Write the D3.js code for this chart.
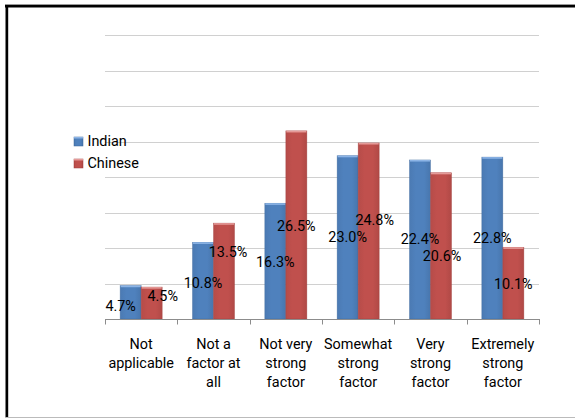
<!DOCTYPE html>
<html>
<head>
<meta charset="utf-8">
<script src="https://cdn.jsdelivr.net/npm/d3@7/dist/d3.min.js"></script>
<style>
html,body{margin:0;padding:0;background:#fff;}
svg{display:block;}
text{font-family:Roboto, "Liberation Sans", sans-serif;fill:#000;}
</style>
</head>
<body>
<svg id="chart" width="575" height="419"></svg>
<script>
const categories = ["Not\napplicable", "Not a\nfactor at\nall", "Not very\nstrong\nfactor", "Somewhat\nstrong\nfactor", "Very\nstrong\nfactor", "Extremely\nstrong\nfactor"];
const seriesNames = ["Indian", "Chinese"];
const indian = [4.7, 10.8, 16.3, 23.0, 22.4, 22.8];
const chinese = [4.5, 13.5, 26.5, 24.8, 20.6, 10.1];
const yTicks = [0, 5, 10, 15, 20, 25, 30, 35, 40];

const colors = {Indian: "#4F81BD", Chinese: "#C0504D"};
const darker = {Indian: "#3B6699", Chinese: "#9E3B38"};
const lighter = {Indian: "#8CB4E6", Chinese: "#E59A98"};

// label layout nudges (pixels), mimicking the original's label placement
const labelDx = {Indian: [-10, 0, 0, 0, 0, 0], Chinese: [11, 4, 0, 6, 1, 0]};
const labelDy = {Indian: [4, 2, 1, 0, 0, 0], Chinese: [-7, -19, 1, -11, 10, 1]};

const svg = d3.select("#chart");
const W = 575, H = 419;

// frame
svg.append("line").attr("x1", 5).attr("x2", W).attr("y1", 4.5).attr("y2", 4.5).attr("stroke", "#999").attr("stroke-width", 1);
svg.append("rect").attr("x", 5).attr("y", 5).attr("width", W - 5).attr("height", 2.5).attr("fill", "#000");
svg.append("rect").attr("x", 5.5).attr("y", 5).attr("width", 2.7).attr("height", 413).attr("fill", "#000");
svg.append("line").attr("x1", 5).attr("x2", W).attr("y1", 417.5).attr("y2", 417.5).attr("stroke", "#bbb").attr("stroke-width", 1);

const x0 = d3.scaleBand().domain(categories).range([105, 539]).paddingInner(0).paddingOuter(0);
const x1 = d3.scaleBand().domain(seriesNames).range([0, x0.bandwidth()]).paddingInner(0).paddingOuter(0.72);
const y = d3.scaleLinear().domain([0, 40]).range([319, 35]);

// gridlines
svg.append("g").selectAll("line").data(yTicks.filter(d => d > 0)).join("line")
  .attr("x1", 105).attr("x2", 539)
  .attr("y1", d => Math.round(y(d)) + 0.5).attr("y2", d => Math.round(y(d)) + 0.5)
  .attr("stroke", "#D0D0D0").attr("stroke-width", 1.2);

const data = seriesNames.map(s => ({name: s, values: s === "Indian" ? indian : chinese}));

const defs = svg.append("defs");
seriesNames.forEach(s => {
  const g = defs.append("linearGradient").attr("id", "grad-" + s).attr("x1", 0).attr("x2", 1).attr("y1", 0).attr("y2", 0);
  g.append("stop").attr("offset", "0%").attr("stop-color", d3.color(colors[s]).darker(0.15));
  g.append("stop").attr("offset", "30%").attr("stop-color", colors[s]);
  g.append("stop").attr("offset", "70%").attr("stop-color", colors[s]);
  g.append("stop").attr("offset", "100%").attr("stop-color", d3.color(colors[s]).darker(0.25));
});

const bars = svg.append("g");
data.forEach(ser => {
  ser.values.forEach((v, i) => {
    const bx = x0(categories[i]) + x1(ser.name);
    const bw = x1.bandwidth();
    const by = y(v), bh = y(0) - y(v);
    bars.append("rect").attr("x", bx).attr("y", by).attr("width", bw).attr("height", bh)
      .attr("fill", "url(#grad-" + ser.name + ")")
      .attr("stroke", darker[ser.name]).attr("stroke-width", 0.6).attr("stroke-opacity", 0.6);
    bars.append("rect").attr("x", bx + 0.5).attr("y", by).attr("width", bw - 1).attr("height", 1.6)
      .attr("fill", lighter[ser.name]);
  });
});

// x axis
const axisG = svg.append("g");
axisG.append("line").attr("x1", 105).attr("x2", 539).attr("y1", 319.5).attr("y2", 319.5).attr("stroke", "#8C8C8C").attr("stroke-width", 1);
const tickPos = categories.map(c => x0(c)).concat([x0.range()[1]]);
axisG.selectAll("line.tick").data(tickPos).join("line").attr("class", "tick")
  .attr("x1", d => Math.round(d) + 0.5).attr("x2", d => Math.round(d) + 0.5)
  .attr("y1", 319).attr("y2", 324.5).attr("stroke", "#8C8C8C");

axisG.selectAll("text.cat").data(categories).join("text").attr("class", "cat")
  .attr("text-anchor", "middle").attr("font-size", 14.4)
  .each(function(d) {
    const t = d3.select(this);
    const cx = x0(d) + x0.bandwidth() / 2;
    d.split("\n").forEach((line, k) => {
      t.append("tspan").attr("x", cx).attr("y", 349 + k * 19).text(line);
    });
  });

// data labels
const lbl = svg.append("g");
data.forEach(ser => {
  ser.values.forEach((v, i) => {
    const cx = x0(categories[i]) + x1(ser.name) + x1.bandwidth() / 2 + labelDx[ser.name][i];
    const cy = (y(v) + y(0)) / 2 + labelDy[ser.name][i];
    lbl.append("text").attr("x", cx).attr("y", cy + 5).attr("text-anchor", "middle")
      .attr("font-size", 14.4).text(v.toFixed(1) + "%");
  });
});

// legend
const leg = svg.append("g");
seriesNames.forEach((s, k) => {
  const ly = 137 + k * 22;
  leg.append("rect").attr("x", 74).attr("y", ly).attr("width", 9).attr("height", 9)
    .attr("fill", "url(#grad-" + s + ")").attr("stroke", darker[s]).attr("stroke-width", 0.5);
  leg.append("rect").attr("x", 74).attr("y", ly).attr("width", 9).attr("height", 1.5).attr("fill", lighter[s]);
  leg.append("text").attr("x", 87.5).attr("y", ly + 9).attr("font-size", 14.4).text(s);
});
</script>
</body>
</html>
